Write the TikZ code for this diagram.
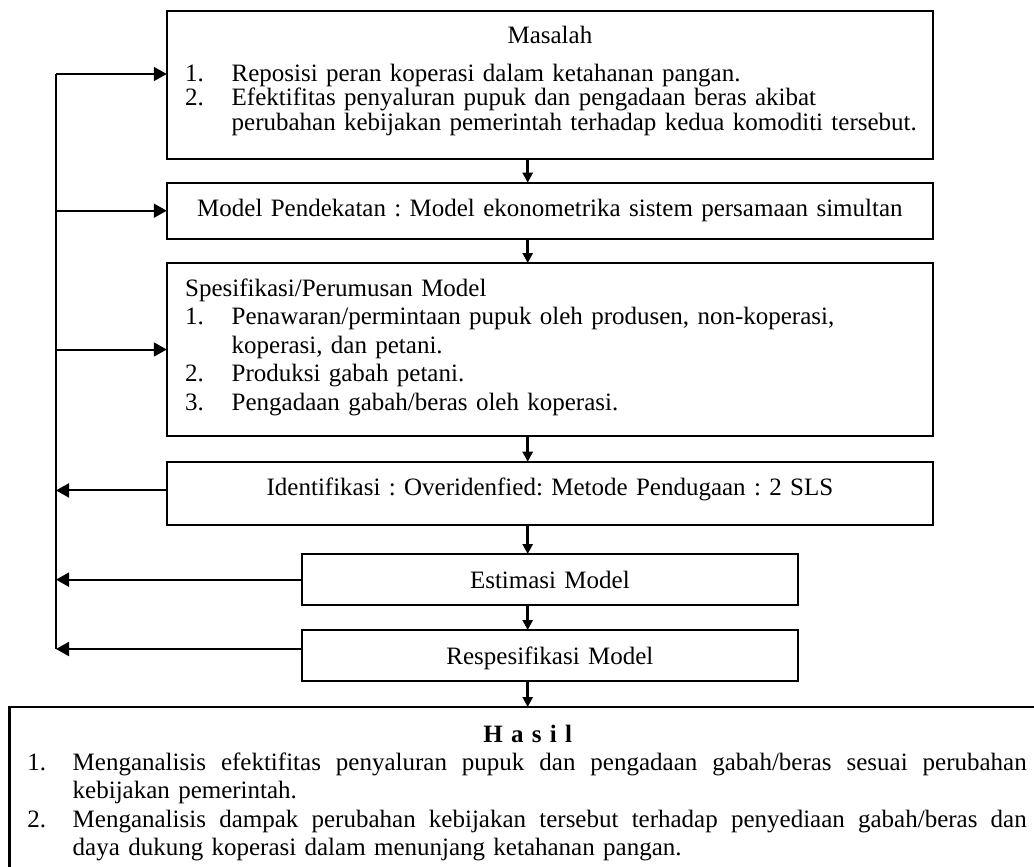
\documentclass[tikz,border=0pt]{standalone}
\usepackage{fontspec}
\setmainfont{Liberation Serif}
\usetikzlibrary{positioning,arrows.meta}

\frenchspacing
\setlength{\lineskiplimit}{-20pt}
\newcommand{\nr}[1]{\makebox[23.25pt][l]{#1}}
\newcommand{\nrh}[1]{\makebox[22.7pt][l]{#1}}
\newcommand{\fullline}[1]{\makebox[477pt][s]{\spaceskip=3.125pt plus 1fil\relax #1}}

\begin{document}
\begin{tikzpicture}[x=0.5pt,y=-0.5pt,thick,
		plain box/.style={rectangle,draw,line width=0.85pt,inner xsep=9.2pt,inner ysep=0pt,outer sep=0pt,
			text width=364.75pt,align=left,font=\fontsize{12.5}{14.25}\selectfont},
		short box/.style={plain box,text width=229.75pt,align=center},
		flow arrow/.style={-{Triangle[length=5pt,width=5pt]},line width=1.3pt},
		back arrow/.style={-{Triangle[length=6.5pt,width=7pt]},line width=1pt}]
		\useasboundingbox (0,0) rectangle (1034,867);
		\clip (0,0) rectangle (1034,867);
		
		\node[plain box, anchor=north, text height=16.15pt, text depth=58pt,
			font=\fontsize{12.5}{10.4}\selectfont] (masalah) at (549.9,10.7)
			{\makebox[\linewidth]{Masalah}\\[8.6pt]
			\nr{1.}Reposisi peran koperasi dalam ketahanan pangan.\\
			\nr{2.}Efektifitas penyaluran pupuk dan pengadaan beras akibat\\
			\mbox{\hspace*{23.25pt}perubahan kebijakan pemerintah terhadap kedua komoditi tersebut.}};
		\node[plain box, align=center, text height=16.65pt, text depth=11.35pt,
			below=11.85pt of masalah] (model)
			{Model Pendekatan : Model ekonometrika sistem persamaan simultan};
		\node[plain box, text height=16.5pt, text depth=70pt, below=12.15pt of model] (spes)
			{Spesifikasi/Perumusan Model\\
			\nr{1.}Penawaran/permintaan pupuk oleh produsen, non-koperasi,\\
			\hspace*{23.25pt}koperasi, dan petani.\\
			\nr{2.}Produksi gabah petani.\\
			\nr{3.}Pengadaan gabah/beras oleh koperasi.};
		\node[plain box, align=center, text height=16.65pt, text depth=15.15pt,
			below=12.85pt of spes] (ident)
			{Identifikasi : Overidenfied: Metode Pendugaan : 2 SLS};
		\node[short box, text height=17.15pt, text depth=8.5pt, below=14.35pt of ident] (estim)
			{Estimasi Model};
		\node[short box, text height=17.15pt, text depth=8.35pt, below=12.35pt of estim] (resp)
			{Respesifikasi Model};
		\node[plain box, line width=1.35pt, inner xsep=9pt, text width=500.35pt,
			text height=17.5pt, text depth=69pt, font=\fontsize{12.5}{14.2}\selectfont,
			below=13pt of resp, xshift=-11.1pt] (hasil)
			{\makebox[\linewidth]{\bfseries H a s i l}\\
			\nrh{1.}\fullline{Menganalisis efektifitas penyaluran pupuk dan pengadaan gabah/beras sesuai perubahan}\\
			\hspace*{22.7pt}kebijakan pemerintah.\\
			\nrh{2.}\fullline{Menganalisis dampak perubahan kebijakan tersebut terhadap penyediaan gabah/beras dan}\\
			\hspace*{22.7pt}daya dukung koperasi dalam menunjang ketahanan pangan.};
		
		% main flow
		\path[flow arrow]
		(masalah.south -| hasil.north) edge (model.north -| hasil.north)
		(model.south -| hasil.north) edge (spes.north -| hasil.north)
		(spes.south -| hasil.north) edge (ident.north -| hasil.north)
		(ident.south -| hasil.north) edge (estim.north -| hasil.north)
		(estim.south -| hasil.north) edge (resp.north -| hasil.north)
		(resp.south -| hasil.north) edge (hasil.north);
		
		% feedback loop
		\coordinate (fbtop) at (56,74);
		\coordinate (fbbot) at (56,649);
		\draw[line width=1pt] (fbtop) -- (fbbot);
		\path[back arrow]
		(fbtop) edge (fbtop -| masalah.west)
		(fbtop |- model.west) edge (model.west)
		(fbtop |- spes.west) edge (spes.west)
		(ident.mid west) edge (fbtop |- ident.mid west)
		(estim.west) edge (fbtop |- estim.west)
		(fbbot -| resp.west) edge (fbbot);
\end{tikzpicture}
\end{document}
